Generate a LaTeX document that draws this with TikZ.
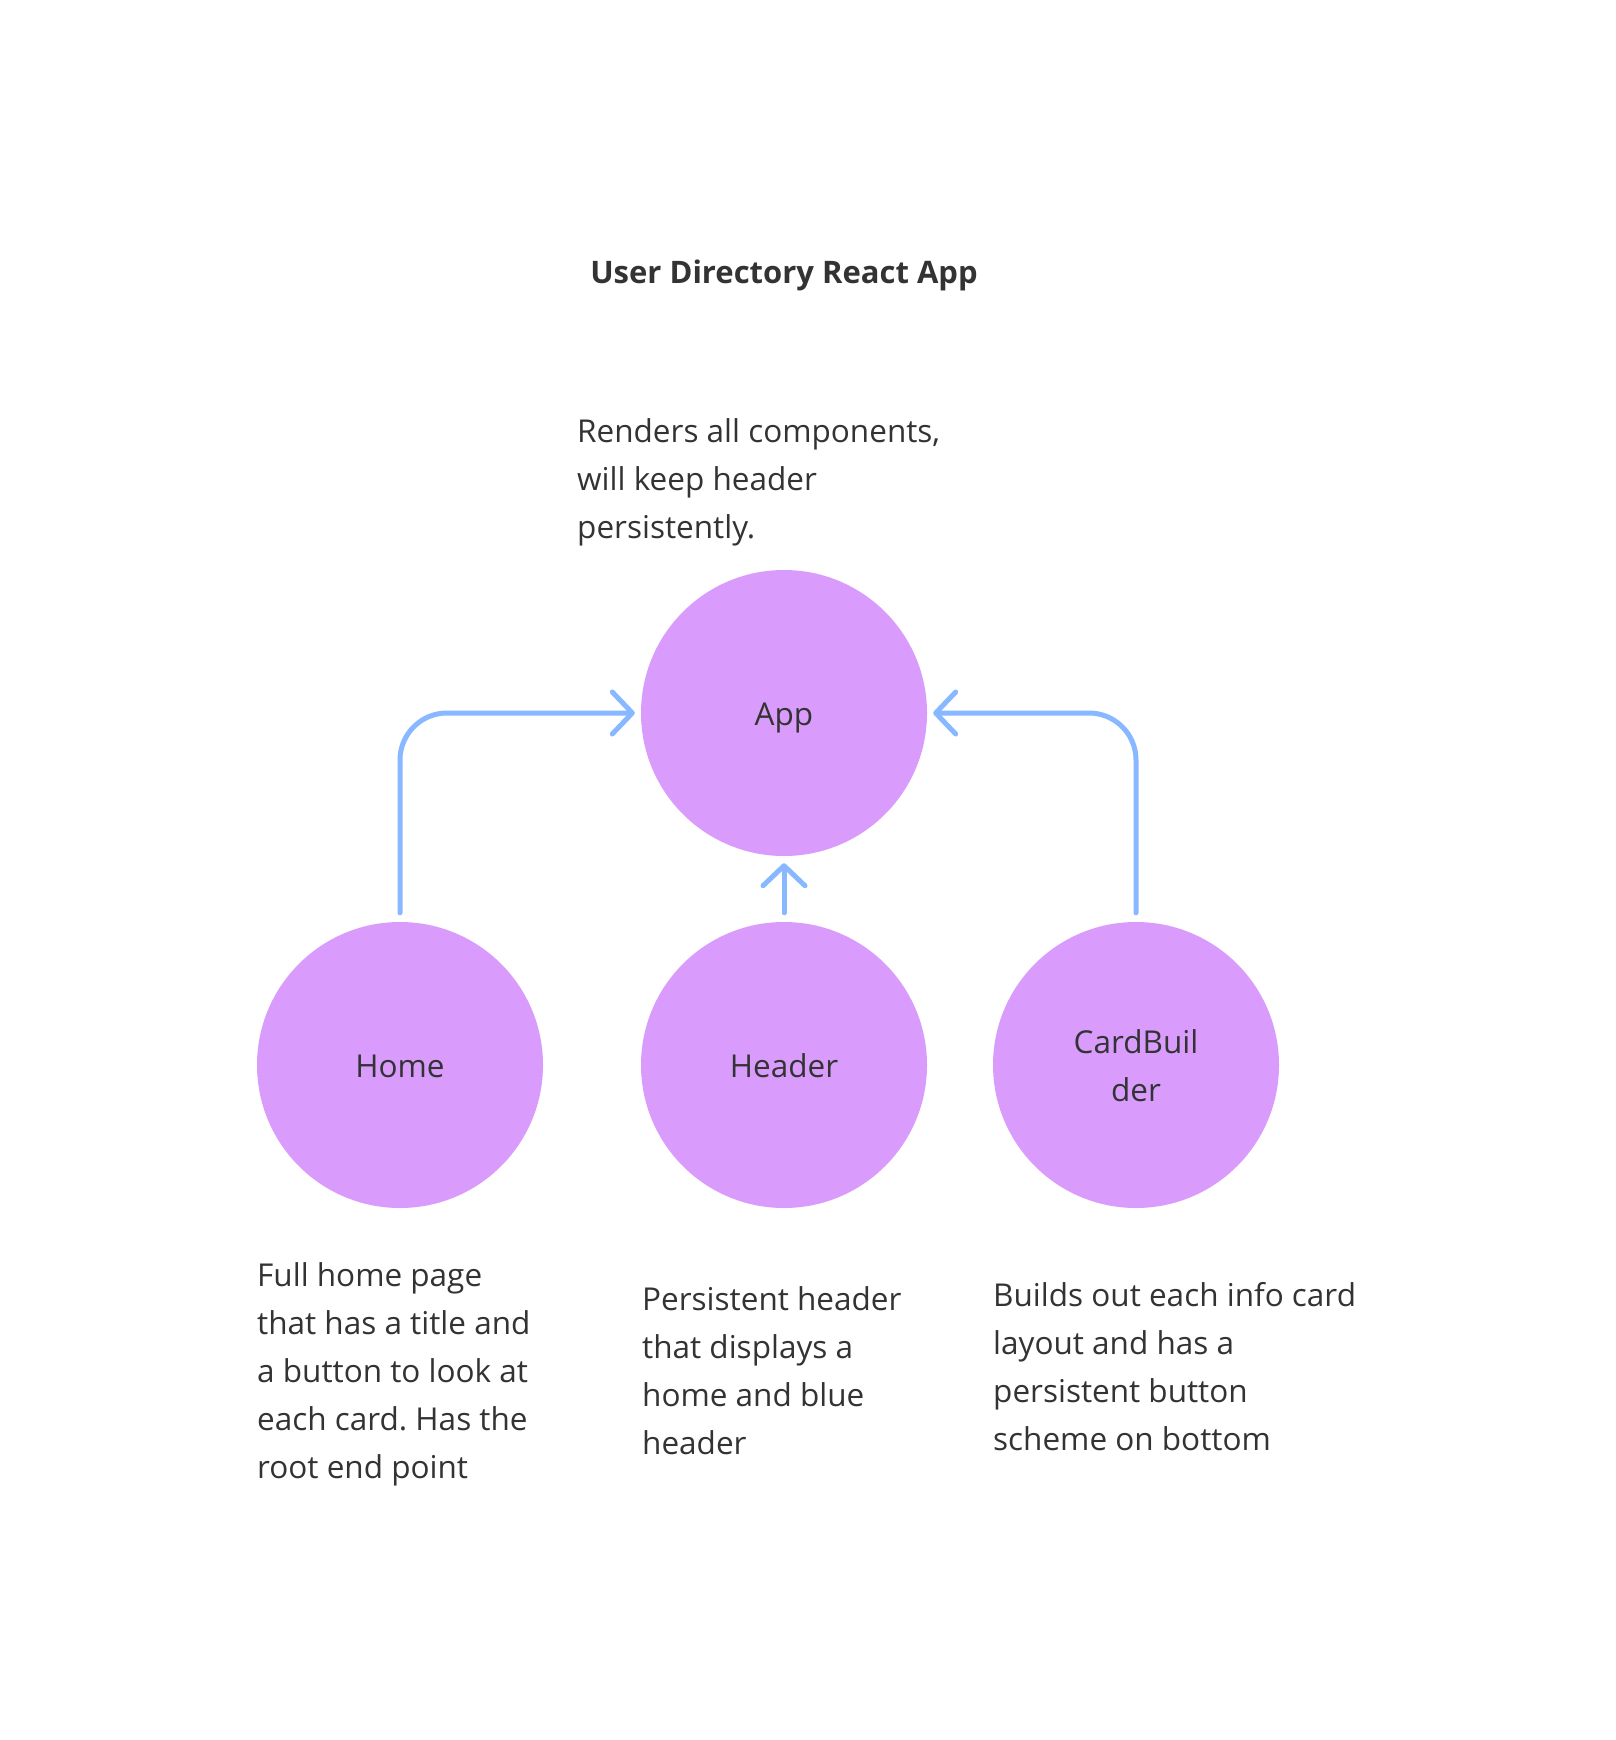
\documentclass[tikz,border=0pt]{standalone}
\usepackage{fontspec}
\setmainfont{Open Sans}
\usetikzlibrary{arrows.meta}
\definecolor{nodefill}{HTML}{D99CFD}
\definecolor{arrowc}{HTML}{88B8FF}
\definecolor{txt}{HTML}{333333}
\frenchspacing
\begin{document}
\begin{tikzpicture}[x=1pt,y=-1pt,
  comp/.style={circle, fill=nodefill, minimum size=286pt, inner sep=0pt, text=txt,
    font=\fontsize{31.5}{48}\selectfont, align=center, text height=24pt, text depth=0pt},
  desc/.style={anchor=base west, inner sep=0pt, text=txt,
    font=\fontsize{31.5}{48}\selectfont, align=left},
  link/.style={draw=arrowc, line width=5pt, line cap=round, rounded corners=47pt,
    -{Straight Barb[length=20pt,width=42pt,round]}},
]
\useasboundingbox[fill=white] (0,0) rectangle (1615,1740);

\node[anchor=base, inner sep=0pt, text=txt, font=\fontsize{31}{40}\selectfont\bfseries]
  (title) at (784,283) {User Directory React App};

% base anchor of a multi-line node = baseline of its last line
\node[desc] (appdesc) at (577,538) {Renders all components,\\will keep header\\persistently.};

\node[comp] (app) at (784,713) {App};
\node[comp] (home) at (400,1065) {Home};
\node[comp] (header) at (784,1065) {Header};
\node[comp, text height=72pt] (card) at (1136,1065) {CardBuil\\der};

\node[desc] (homedesc) at (257,1478) {Full home page\\that has a title and\\a button to look at\\each card. Has the\\root end point};
\node[desc] (headerdesc) at (642,1454) {Persistent header\\that displays a\\home and blue\\header};
\node[desc] (carddesc) at (993,1450) {Builds out each info card\\layout and has a\\persistent button\\scheme on bottom};

\draw[link, shorten <=9pt, shorten >=6pt] (home.north) |- (app.west);
\draw[link, shorten <=9pt, shorten >=6pt] (card.north) |- (app.east);
\draw[link, shorten <=9pt, shorten >=7pt] (header.north) -- (app.south);
\end{tikzpicture}
\end{document}
